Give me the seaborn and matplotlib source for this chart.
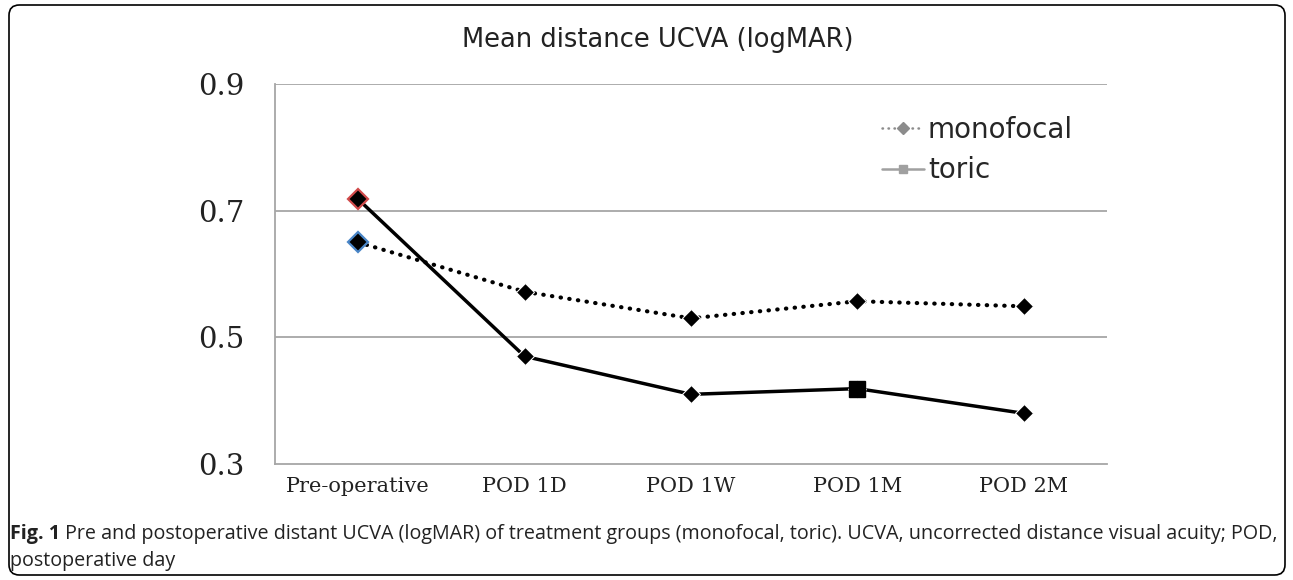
import pandas as pd
import matplotlib.pyplot as plt
import seaborn as sns
import numpy as np
from matplotlib.lines import Line2D
from matplotlib.patches import FancyBboxPatch

# Данные
visits = ['Pre-operative', 'POD 1D', 'POD 1W', 'POD 1M', 'POD 2M']
monofocal = [0.650, 0.572, 0.530, 0.557, 0.549]
toric = [0.718, 0.470, 0.410, 0.419, 0.380]
yticks = [0.3, 0.5, 0.7, 0.9]

df = pd.DataFrame({
    'visit': visits * 2,
    'value': monofocal + toric,
    'group': ['monofocal'] * len(visits) + ['toric'] * len(visits),
})

sns.set_style('white')
fig = plt.figure(figsize=(12.93, 5.80), dpi=100)
ax = fig.add_axes([275 / 1293, 1 - 464 / 580, (1107 - 275) / 1293, (464 - 84) / 580])

grid_c = '#a6a6a6'
for y in yticks[1:]:
    ax.axhline(y, color=grid_c, lw=1.3, zorder=0)

n_before = len(ax.lines)
sns.lineplot(data=df, x='visit', y='value', hue='group', style='group',
             palette={'monofocal': 'black', 'toric': 'black'},
             dashes={'monofocal': (0.1, 2.0), 'toric': ''},
             markers={'monofocal': 'D', 'toric': 'D'},
             markersize=9.5, linewidth=2.5, legend=False, ax=ax, sort=False)
data_lines = ax.lines[n_before:]
for ln in data_lines:
    ln.set_dash_capstyle('round')
data_lines[0].set_linewidth(3.0)

# выделенные точки
ax.plot(0, monofocal[0], marker='D', ms=10, mfc='black', mec='#4a86c8', mew=1.6, ls='none', zorder=5)
ax.plot(0, toric[0], marker='D', ms=10, mfc='black', mec='#d04a4a', mew=1.6, ls='none', zorder=5)
ax.plot(3, toric[3], marker='s', ms=11, color='black', ls='none', zorder=5)

ax.set_xlim(-0.5, len(visits) - 0.5)
ax.set_ylim(0.3, 0.9)
ax.set_yticks(yticks)
ax.set_yticklabels([f'{v:.1f}' for v in yticks], fontsize=21, family='DejaVu Serif', color='#222222')
ax.set_xticks(np.arange(len(visits) + 1) - 0.5, minor=False)
ax.set_xticklabels([''] * (len(visits) + 1))
ax.set_xticks(np.arange(len(visits)), minor=True)
ax.set_xticklabels(visits, minor=True, fontsize=15, family='DejaVu Serif', color='#222222')
ax.tick_params(axis='x', which='major', length=8, width=1.2, color=grid_c, direction='out')
ax.tick_params(axis='x', which='minor', length=0, pad=9)
ax.tick_params(axis='y', length=10, width=1.2, color=grid_c, direction='out', pad=12)
ax.set_xlabel('')
ax.set_ylabel('')
for s in ['top', 'right']:
    ax.spines[s].set_visible(False)
for s in ['left', 'bottom']:
    ax.spines[s].set_color(grid_c)
    ax.spines[s].set_linewidth(1.3)

handles = [
    Line2D([], [], color='#8c8c8c', ls=(0, (0.2, 2.2)), lw=1.8, marker='D', ms=6, dash_capstyle='round'),
    Line2D([], [], color='#a0a0a0', ls='-', lw=1.8, marker='s', ms=6),
]
ax.legend(handles, ['monofocal', 'toric'], loc='center left',
          bbox_to_anchor=((882 - 275) / 832, (464 - 150) / 380),
          frameon=False, fontsize=20, handlelength=1.5, handletextpad=0.15,
          labelspacing=0.45, borderaxespad=0, borderpad=0)

fig.text(658 / 1293, 1 - 40 / 580, 'Mean distance UCVA (logMAR)', ha='center', va='center',
         fontsize=18.5, color='#222222', family='DejaVu Sans')

bold = fig.text(10 / 1293, 1 - 534 / 580, 'Fig. 1', fontsize=14.2, fontweight='bold',
                family='Open Sans', va='center', color='#222222')
ax.annotate(' Pre and postoperative distant UCVA (logMAR) of treatment groups (monofocal, toric). '
            'UCVA, uncorrected distance visual acuity; POD,', xy=(1, 0.5), xycoords=bold,
            va='center', ha='left', fontsize=14.2, family='Open Sans', color='#222222',
            annotation_clip=False)
fig.text(10 / 1293, 1 - 561 / 580, 'postoperative day', fontsize=14.2, family='Open Sans',
         va='center', color='#222222')

box = FancyBboxPatch((9 / 1293, 5 / 580), 1276 / 1293, 570 / 580,
                     boxstyle='round,pad=0,rounding_size=0.008', mutation_aspect=1293 / 580,
                     transform=fig.transFigure, fill=False, ec='black', lw=1.2)
fig.patches.append(box)

plt.savefig('out.png', dpi=100)
